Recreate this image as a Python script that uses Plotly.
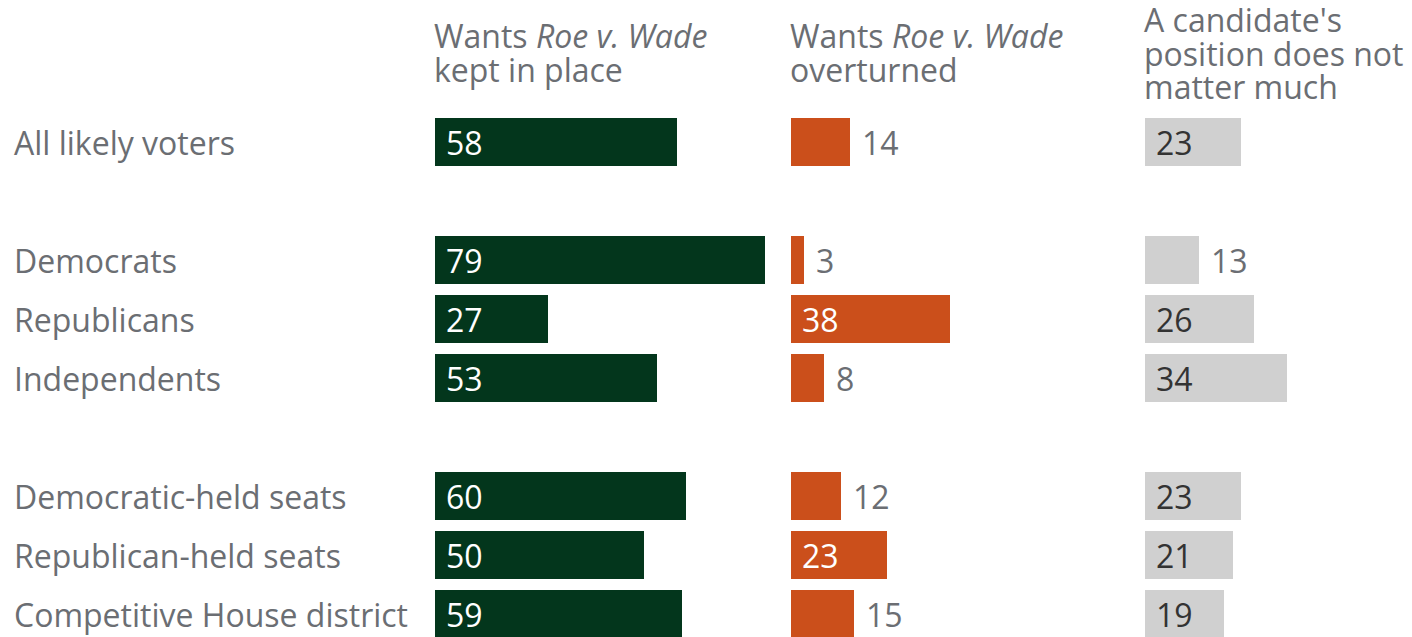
import plotly.graph_objects as go

categories = ["All likely voters", "Democrats", "Republicans", "Independents",
              "Democratic-held seats", "Republican-held seats", "Competitive House district"]
row_pos = [0, 2, 3, 4, 6, 7, 8]
kept = [58, 79, 27, 53, 60, 50, 59]
overturned = [14, 3, 38, 8, 12, 23, 15]
not_matter = [23, 13, 26, 34, 23, 21, 19]

headers = [
    ["Wants <i>Roe v. Wade</i>", "kept in place"],
    ["Wants <i>Roe v. Wade</i>", "overturned"],
    ["A candidate's", "position does not", "matter much"],
]

OFF = 8  # page body margin
W, H = 1412 - OFF, 637 - OFF
FONT = "Open Sans"
FS = 32
GRAY_TXT = "#6b6e73"
colors = ["#03361c", "#cb4f1b", "#d0d0d0"]
inside_txt = ["#ffffff", "#ffffff", "#333333"]
series = [kept, overturned, not_matter]

PX_PER_UNIT = 4.18
starts_px = [435 - OFF, 791 - OFF, 1145 - OFF]
ends_px = [789 - OFF, 1143 - OFF, W]

fig = go.Figure()
annotations = []

row_px = 59.0
row0 = 142 - OFF
top_units = -row0 / row_px
bottom_units = (H - row0) / row_px

HEADER_MID = 53 - OFF
LINE_H = 34

for i, vals in enumerate(series):
    xa = "x" if i == 0 else f"x{i+1}"
    fig.add_trace(go.Bar(
        x=vals, y=row_pos, orientation="h",
        marker=dict(color=colors[i], line=dict(width=0)),
        width=0.83, xaxis=xa, yaxis="y", hoverinfo="skip", showlegend=False,
    ))
    dom = [starts_px[i] / W, ends_px[i] / W]
    rng = [0, (ends_px[i] - starts_px[i]) / PX_PER_UNIT]
    key = "xaxis" if i == 0 else f"xaxis{i+1}"
    fig.layout[key] = dict(domain=dom, range=rng, visible=False, fixedrange=True,
                           anchor="y")
    for v, r in zip(vals, row_pos):
        inside = v >= 16
        annotations.append(dict(
            x=0 if inside else v, y=r, xref=xa, yref="y",
            text=str(v), showarrow=False, xanchor="left", yanchor="middle",
            xshift=10 if inside else 11, borderpad=0,
            font=dict(family=FONT, size=FS, color=inside_txt[i] if inside else GRAY_TXT),
        ))
    lines = headers[i]
    n = len(lines)
    first_y = HEADER_MID - LINE_H * (n - 1) / 2
    for k, line in enumerate(lines):
        annotations.append(dict(
            x=starts_px[i] / W, y=1 - (first_y + LINE_H * k) / H,
            xref="paper", yref="paper", text=line, showarrow=False,
            xanchor="left", yanchor="middle", xshift=-2, borderpad=0,
            font=dict(family=FONT, size=FS, color=GRAY_TXT),
        ))

for c, r in zip(categories, row_pos):
    annotations.append(dict(
        x=(15 - OFF) / W, y=r, xref="paper", yref="y", text=c, showarrow=False,
        xanchor="left", yanchor="middle", xshift=-2, borderpad=0,
        font=dict(family=FONT, size=FS, color=GRAY_TXT),
    ))

fig.update_layout(
    width=W, height=H,
    margin=dict(l=0, r=0, t=0, b=0),
    paper_bgcolor="white", plot_bgcolor="white",
    yaxis=dict(range=[bottom_units, top_units], visible=False, fixedrange=True),
    annotations=annotations,
    bargap=0,
)

fig.write_html("out.html", config={"displayModeBar": False})
